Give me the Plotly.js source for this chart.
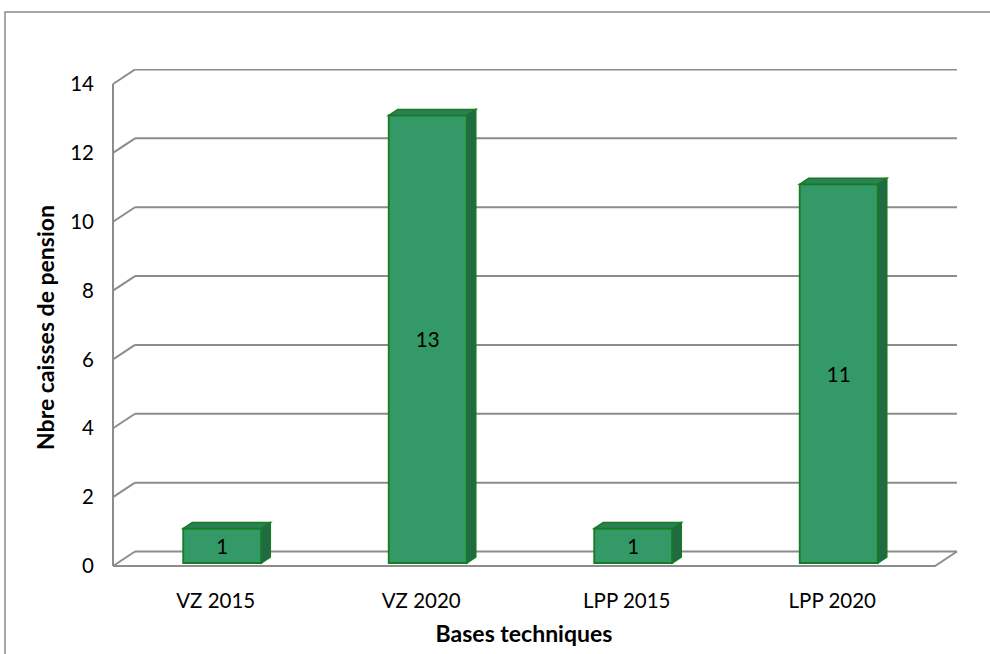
<!DOCTYPE html>
<html>
<head>
<meta charset="utf-8">
<script src="https://cdn.plot.ly/plotly-3.0.1.min.js"></script>
<style>
  html, body { margin: 0; padding: 0; background: #ffffff; }
  #chart { width: 990px; height: 654px; }
</style>
</head>
<body>
<div id="chart"></div>
<script>
// ---- data ----
const categories = ['VZ 2015', 'VZ 2020', 'LPP 2015', 'LPP 2020'];
const values = [1, 13, 1, 11];
const yTicks = [0, 2, 4, 6, 8, 10, 12, 14];
const xTitle = 'Bases techniques';
const yTitle = 'Nbre caisses de pension';

// ---- style / geometry ----
const W = 990, H = 654;
const M = { l: 113, r: 55, t: 69, b: 68 };
const plotW = W - M.l - M.r;          // front plane width
const plotH = H - M.t - M.b;
const X_PX = plotW / categories.length; // px per category unit
const Y_PX = 482 / 14;                  // px per value unit
const yRange = [-20 / Y_PX, (plotH - 20) / Y_PX];
const WALL = { x: 22, y: 14.5 };        // 3D wall depth in px
const DXP = WALL.x / plotW;             // in paper units
const DY = WALL.y / Y_PX;               // in value units
const BAR_W = 0.38;
const BAR_SHIFT_X = 6.5 / X_PX;
const BAR_BASE = 3 / Y_PX;
const BAR_DX = 9 / X_PX, BAR_DY = 6 / Y_PX;

const FONT = 'Lato, "Open Sans", sans-serif';
const GRID = '#8c8c8c';
const FRONT = '#339966';
const TOP = '#2b8155';
const SIDE = '#206a44';
const EDGE = '#187a22';

const xIdx = categories.map((c, i) => i);

const shapes = [];
// outer chart border
shapes.push({ type: 'rect', xref: 'paper', yref: 'paper', layer: 'below',
  x0: (5 - M.l) / plotW, x1: 1.3, y0: -0.4, y1: (plotH + M.t - 12) / plotH,
  line: { color: '#8a8a8a', width: 1.5 }, fillcolor: 'rgba(0,0,0,0)' });
// back-wall gridlines and left connectors
yTicks.forEach(v => {
  shapes.push({ type: 'line', xref: 'paper', yref: 'y', layer: 'below',
    x0: DXP, x1: 1 + DXP, y0: v + DY, y1: v + DY,
    line: { color: GRID, width: 2 } });
  shapes.push({ type: 'line', xref: 'paper', yref: 'y', layer: 'below',
    x0: 0, x1: DXP, y0: v, y1: v + DY,
    line: { color: GRID, width: 2 } });
});
// left front axis line
shapes.push({ type: 'line', xref: 'paper', yref: 'y', layer: 'below',
  x0: 0, x1: 0, y0: yTicks[0], y1: yTicks[yTicks.length - 1],
  line: { color: GRID, width: 2 } });
// floor front edge and right edge
shapes.push({ type: 'path', xref: 'paper', yref: 'y', layer: 'below',
  path: `M 0,${yTicks[0]} L 1,${yTicks[0]} L ${1 + DXP},${yTicks[0] + DY}`,
  line: { color: GRID, width: 2 } });
// bar 3D faces
values.forEach((v, i) => {
  const x0 = xIdx[i] + BAR_SHIFT_X - BAR_W / 2;
  const x1 = xIdx[i] + BAR_SHIFT_X + BAR_W / 2;
  const yb = BAR_BASE, yt = BAR_BASE + v;
  shapes.push({ type: 'path', xref: 'x', yref: 'y', layer: 'above',
    path: `M ${x0},${yt} L ${x1},${yt} L ${x1 + BAR_DX},${yt + BAR_DY} L ${x0 + BAR_DX},${yt + BAR_DY} Z`,
    fillcolor: TOP, line: { color: EDGE, width: 1.5 } });
  shapes.push({ type: 'path', xref: 'x', yref: 'y', layer: 'above',
    path: `M ${x1},${yb} L ${x1},${yt} L ${x1 + BAR_DX},${yt + BAR_DY} L ${x1 + BAR_DX},${yb + BAR_DY} Z`,
    fillcolor: SIDE, line: { color: EDGE, width: 1.5 } });
});

const trace = {
  type: 'bar',
  x: xIdx,
  y: values,
  base: BAR_BASE,
  width: BAR_W,
  offset: BAR_SHIFT_X - BAR_W / 2,
  marker: { color: FRONT, line: { color: EDGE, width: 1.8 } },
  text: values.map(String),
  texttemplate: '%{text}',
  textposition: 'inside',
  insidetextanchor: 'middle',
  constraintext: 'none',
  textangle: 0,
  textfont: { family: FONT, size: 20.5, color: '#000000' },
  hoverinfo: 'x+y',
  showlegend: false,
  cliponaxis: false
};

const layout = {
  width: W, height: H,
  margin: M,
  paper_bgcolor: '#ffffff',
  plot_bgcolor: 'rgba(0,0,0,0)',
  font: { family: FONT, size: 20, color: '#000000' },
  showlegend: false,
  xaxis: {
    range: [-0.5, categories.length - 0.5],
    tickmode: 'array', tickvals: xIdx, ticktext: categories,
    showgrid: false, zeroline: false, showline: false, ticks: '',
    tickfont: { family: FONT, size: 20.5, color: '#000000' },
    ticklabelstandoff: 0,
    title: { text: xTitle, font: { family: FONT, size: 23, color: '#000000', weight: 'bold' }, standoff: 15 },
    fixedrange: true
  },
  yaxis: {
    range: yRange,
    tickmode: 'array', tickvals: yTicks,
    showgrid: false, zeroline: false, showline: false, ticks: '',
    tickfont: { family: FONT, size: 20.5, color: '#000000' },
    ticklabelstandoff: 18,
    title: { text: yTitle, font: { family: FONT, size: 23, color: '#000000', weight: 'bold' }, standoff: 9 },
    fixedrange: true
  },
  shapes: shapes
};

Plotly.newPlot('chart', [trace], layout, { displayModeBar: false, staticPlot: true });
</script>
</body>
</html>
